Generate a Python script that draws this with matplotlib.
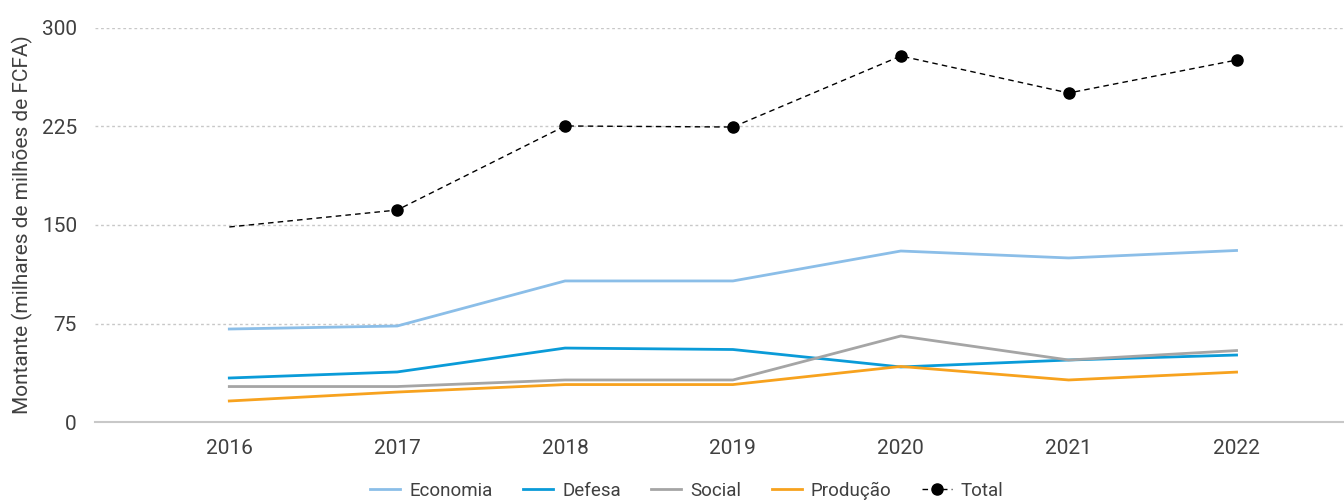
import matplotlib.pyplot as plt

plt.rcParams['font.family'] = ['Roboto', 'DejaVu Sans']

# data
anos = ["2016", "2017", "2018", "2019", "2020", "2021", "2022"]
economia = [70.8, 73.1, 107.4, 107.4, 130.2, 124.9, 130.6]
defesa = [33.5, 38.1, 56.3, 55.2, 41.9, 47.2, 51.0]
social = [27.0, 27.0, 32.0, 32.0, 65.5, 47.2, 54.4]
producao = [16.0, 22.8, 28.5, 28.5, 42.3, 32.0, 38.0]
total = [148.5, 161.4, 225.4, 224.6, 278.7, 250.5, 275.6]

fig = plt.figure(figsize=(13.44, 5), dpi=100)
ax = fig.add_axes([95 / 1344, 1 - 422 / 500, 1 - 95 / 1344, 394 / 500])

x = range(len(anos))
ax.plot(x, economia, color="#8BBEE8", lw=2, label="Economia")
ax.plot(x, defesa, color="#0A9BD8", lw=2, label="Defesa")
ax.plot(x, social, color="#A5A5A5", lw=2, label="Social")
ax.plot(x, producao, color="#F7A21E", lw=2, label="Produção")
# first point of Total has no marker in the reference
ax.plot(x, total, color="black", lw=1, ls=(0, (4, 3)), marker="o", ms=8,
        markevery=list(range(1, len(anos))), label="Total")

ax.set_xlim(-0.8, 6.64)
ax.set_ylim(0, 300)
ax.set_yticks([0, 75, 150, 225, 300])
ax.set_xticks(list(x))
ax.set_xticklabels(anos)
ax.yaxis.grid(True, color="#C8C8C8", ls=(0, (2, 2)), lw=1)
ax.set_axisbelow(True)
for s in ["top", "right", "left"]:
    ax.spines[s].set_visible(False)
ax.spines["bottom"].set_color("#C8C8C8")
ax.spines["bottom"].set_linewidth(1.5)
ax.tick_params(axis="both", length=0, labelsize=15, colors="#404040")
ax.tick_params(axis="x", pad=12)
ax.tick_params(axis="y", pad=13)
ax.set_ylabel("Montante (milhares de milhões de FCFA)", fontsize=15,
              color="#404040", labelpad=6)

ax.legend(loc="center", bbox_to_anchor=(0.474, -0.175), ncol=5,
          frameon=False, fontsize=13.5, handlelength=1.6, handletextpad=0.5,
          columnspacing=1.6, labelcolor="#404040")

fig.savefig("out.png", dpi=100)
